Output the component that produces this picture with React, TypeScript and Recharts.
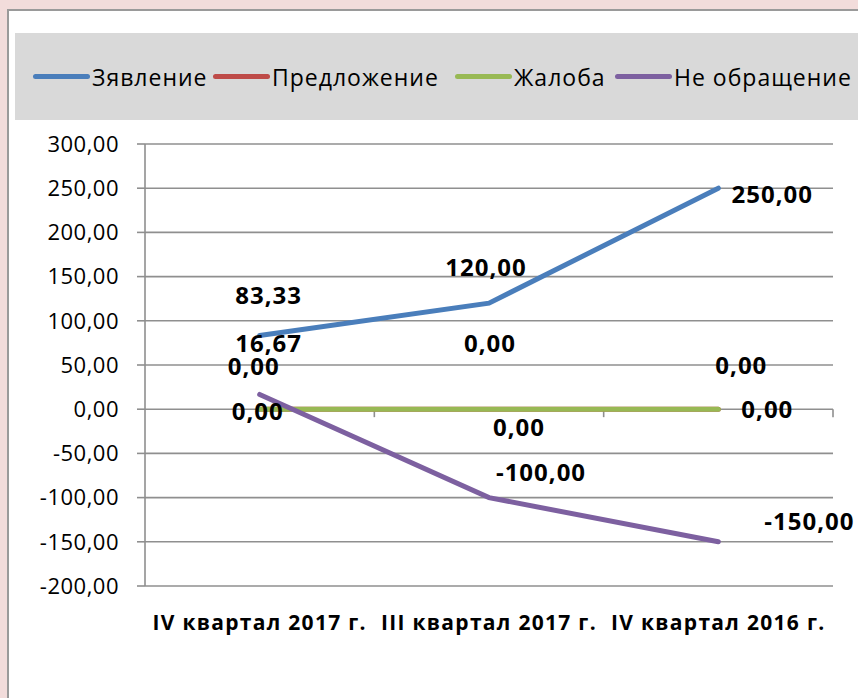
import { LineChart, Line, XAxis, YAxis, CartesianGrid, Legend, LabelList, ReferenceLine } from 'recharts'

const categories = ['IV квартал 2017 г.', 'III квартал 2017 г.', 'IV квартал 2016 г.']
const zayavlenie = [83.33, 120, 250]
const predlozhenie = [0, 0, 0]
const zhaloba = [0, 0, 0]
const neObrashchenie = [16.67, -100, -150]
const yTicks = [-200, -150, -100, -50, 0, 50, 100, 150, 200, 250, 300]
const boundaries = [1, 2, 3]

const series = [
  { key: 'zayavlenie', name: 'Зявление', color: '#4A7EBB', values: zayavlenie },
  { key: 'predlozhenie', name: 'Предложение', color: '#BE4B48', values: predlozhenie },
  { key: 'zhaloba', name: 'Жалоба', color: '#98B954', values: zhaloba },
  { key: 'neObrashchenie', name: 'Не обращение', color: '#7D60A0', values: neObrashchenie },
]

// where each data label sits relative to its point, px (as Excel placed them)
const labelOffsets: Record<string, number[][]> = {
  zayavlenie: [[9, -40], [-3, -36], [54, 6]],
  predlozhenie: [[-6, -43], [1, -66], [23, -44]],
  zhaloba: [[-2, 2], [30, 18], [49, 0]],
  neObrashchenie: [[9, -51], [52, -25], [91, -20]],
}
const legendLeft = [33, 213, 455, 615]

const data = categories.map((name, i) => {
  const row: Record<string, number | string> = { name, pos: i + 0.5 }
  series.forEach(s => { row[s.key] = s.values[i] })
  return row
})

const fmt = (v: number) => v.toFixed(2).replace('.', ',')
const FONT = '"Open Sans", sans-serif'
const GRID = '#8f8f8f'

const YTick = ({ x, y, payload }: any) => (
  <text x={x} y={y} dy="0.355em" textAnchor="end" fill="#000" fontSize={22} style={{ letterSpacing: '0.5px' }}>
    {fmt(payload.value)}
  </text>
)

const XTick = ({ x, y, payload }: any) => (
  <text x={x} y={y} dy="0.71em" textAnchor="middle" fill="#000" fontSize={21} fontWeight={700} style={{ letterSpacing: '1.3px' }}>
    {categories[Math.floor(payload.value)]}
  </text>
)

const makeLabel = (key: string) => (props: any) => {
  const px = props.x ?? props.viewBox?.x
  const py = props.y ?? props.viewBox?.y
  const [dx, dy] = labelOffsets[key][props.index] || [0, 0]
  return (
    <text x={px + dx} y={py + dy} dy="0.355em" textAnchor="middle" fill="#000" fontSize={24} fontWeight={700} style={{ letterSpacing: '1px' }}>
      {fmt(Number(props.value))}
    </text>
  )
}

const renderLegend = () => (
  <div style={{ position: 'relative', width: 843, height: 87, background: '#d9d9d9', fontFamily: FONT }}>
    {series.map((s, i) => (
      <div key={s.key} style={{ position: 'absolute', left: legendLeft[i] - 15, top: 0, height: 87, display: 'flex', alignItems: 'center' }}>
        <span style={{ display: 'inline-block', width: 57, height: 5, borderRadius: 3, background: s.color }} />
        <span style={{ marginLeft: 2, fontSize: 23, letterSpacing: '1px', color: '#000', whiteSpace: 'nowrap' }}>{s.name}</span>
      </div>
    ))}
  </div>
)

export default function App() {
  return (
    <div style={{ position: 'fixed', left: 0, top: 0, width: 858, height: 698, background: '#f2dcdb', overflow: 'hidden', fontFamily: FONT }}>
      <div style={{ position: 'absolute', left: 7, top: 9, width: 900, height: 740, background: '#fff', borderLeft: '2px solid #9a9a9a', borderTop: '2px solid #9a9a9a' }} />
      <div style={{ position: 'absolute', left: 0, top: 0, width: 858, height: 698, overflow: 'hidden' }}>
        <LineChart width={858} height={698} data={data} margin={{ top: 144, right: 25, bottom: 52, left: 0 }}>
          <CartesianGrid vertical={false} stroke={GRID} strokeWidth={1.6} />
          <XAxis
            type="number"
            dataKey="pos"
            domain={[0, 3]}
            ticks={[0.5, 1.5, 2.5]}
            interval={0}
            axisLine={false}
            tickLine={false}
            tickSize={8}
            tickMargin={21}
            height={60}
            tick={<XTick />}
          />
          <YAxis
            domain={[-200, 300]}
            ticks={yTicks}
            interval={0}
            width={145}
            tickSize={8}
            tickMargin={18}
            axisLine={{ stroke: GRID, strokeWidth: 1.6 }}
            tickLine={{ stroke: GRID, strokeWidth: 1.6 }}
            tick={<YTick />}
          />
          {boundaries.map(b => (
            <ReferenceLine key={b} segment={[{ x: b, y: 0 }, { x: b, y: -9 }]} stroke={GRID} strokeWidth={1.6} ifOverflow="visible" />
          ))}
          <Legend verticalAlign="middle" align="center" wrapperStyle={{ top: 33, left: 15, width: 843, height: 87 }} content={renderLegend} />
          {series.map(s => (
            <Line
              key={s.key}
              type="linear"
              dataKey={s.key}
              name={s.name}
              stroke={s.color}
              strokeWidth={5}
              strokeLinecap="round"
              dot={false}
              activeDot={false}
              isAnimationActive={false}
            >
              <LabelList dataKey={s.key} content={makeLabel(s.key)} />
            </Line>
          ))}
        </LineChart>
      </div>
    </div>
  )
}
